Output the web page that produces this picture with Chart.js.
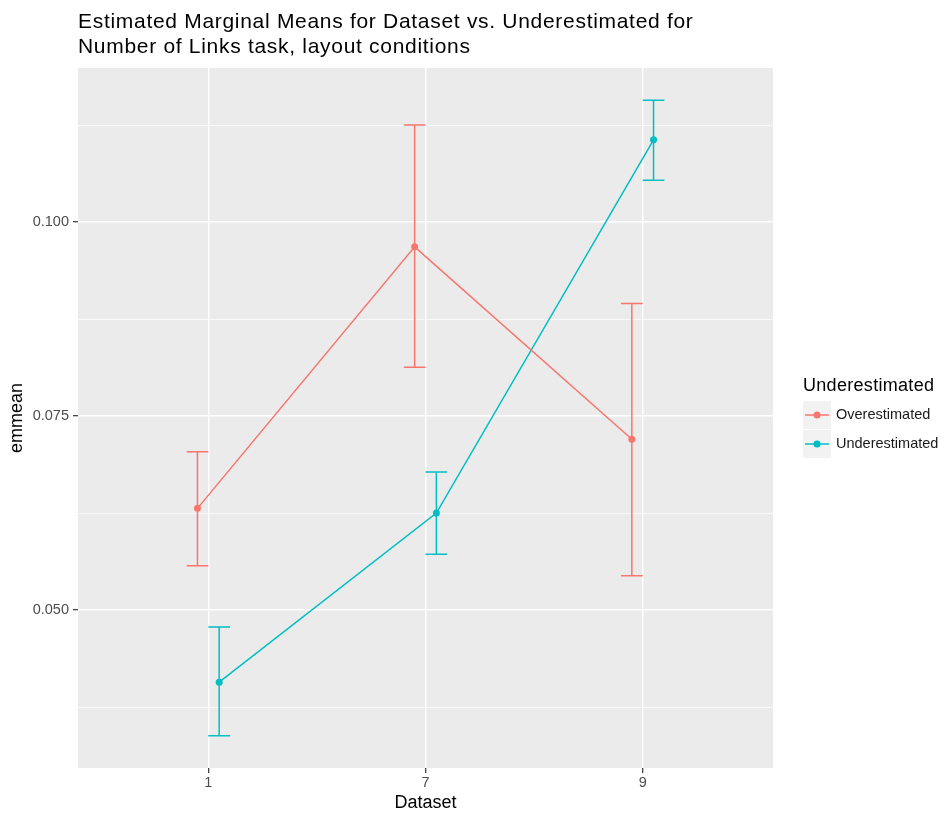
<!DOCTYPE html>
<html>
<head>
<meta charset="utf-8">
<title>Estimated Marginal Means</title>
<script src="https://cdn.jsdelivr.net/npm/chart.js@4.4.1/dist/chart.umd.min.js"></script>
<style>
  html, body { margin: 0; padding: 0; background: #ffffff; }
  #wrap { width: 945px; height: 815px; }
</style>
</head>
<body>
<div id="wrap"><canvas id="emmChart" width="945" height="815"></canvas></div>
<script>
// Data
const categories = ['1', '7', '9'];          // Dataset
const groups = ['Overestimated', 'Underestimated'];
const colors = ['#F8766D', '#00BFC4'];
const overMean  = [0.0631, 0.0968, 0.0720];
const overLower = [0.0557, 0.0813, 0.0544];
const overUpper = [0.0704, 0.1125, 0.0895];
const underMean  = [0.0407, 0.0625, 0.1106];
const underLower = [0.0338, 0.0572, 0.1054];
const underUpper = [0.0478, 0.0678, 0.1157];
const yTicks = [0.0375, 0.05, 0.0625, 0.075, 0.0875, 0.1, 0.1125];
const yLabelled = [0.05, 0.075, 0.1];

const dodge = 0.05;     // position_dodge(0.1)
const capHalf = 0.05;   // errorbar width 0.1
const FONT = "'Liberation Sans', Arial, Helvetica, sans-serif";

const means = [overMean, underMean];
const lowers = [overLower, underLower];
const uppers = [overUpper, underUpper];
const shift = [-dodge, dodge];

function isMajor(v) {
  return yLabelled.some(t => Math.abs(t - v) < 1e-9);
}

// grey panel background
const panelBg = {
  id: 'panelBg',
  beforeDraw(chart) {
    const a = chart.chartArea, c = chart.ctx;
    c.save();
    c.fillStyle = '#EBEBEB';
    c.fillRect(a.left, a.top, a.right - a.left, a.bottom - a.top);
    c.restore();
  }
};

// error bars drawn through the chart scales
const errorBars = {
  id: 'errorBars',
  beforeDatasetsDraw(chart) {
    const c = chart.ctx, xs = chart.scales.x, ys = chart.scales.y;
    c.save();
    c.lineWidth = 1.5;
    groups.forEach((g, gi) => {
      c.strokeStyle = colors[gi];
      categories.forEach((cat, i) => {
        const xv = i + 1 + shift[gi];
        const x = xs.getPixelForValue(xv);
        const x0 = xs.getPixelForValue(xv - capHalf);
        const x1 = xs.getPixelForValue(xv + capHalf);
        const yl = ys.getPixelForValue(lowers[gi][i]);
        const yu = ys.getPixelForValue(uppers[gi][i]);
        c.beginPath();
        c.moveTo(x, yl); c.lineTo(x, yu);
        c.moveTo(x0, yl); c.lineTo(x1, yl);
        c.moveTo(x0, yu); c.lineTo(x1, yu);
        c.stroke();
      });
    });
    c.restore();
  }
};

// title and ggplot-like legend
const decorations = {
  id: 'decorations',
  afterDraw(chart) {
    const c = chart.ctx;
    c.save();
    c.fillStyle = '#000000';
    c.textAlign = 'left';
    c.textBaseline = 'middle';
    c.font = '21px ' + FONT;
    c.letterSpacing = '0.7px';
    c.fillText('Estimated Marginal Means for Dataset vs. Underestimated for', 78, 22);
    c.fillText('Number of Links task, layout conditions', 78, 47);

    // legend
    c.font = '18px ' + FONT;
    c.letterSpacing = '0.3px';
    c.fillText('Underestimated', 803, 386);
    c.font = '14.5px ' + FONT;
    c.letterSpacing = '0px';
    groups.forEach((g, gi) => {
      const top = 401 + gi * 29;
      c.fillStyle = '#F2F2F2';
      c.fillRect(803, top, 28, 28);
      c.strokeStyle = colors[gi];
      c.lineWidth = 1.5;
      c.beginPath();
      c.moveTo(805, top + 14); c.lineTo(829, top + 14);
      c.stroke();
      c.fillStyle = colors[gi];
      c.beginPath();
      c.arc(817, top + 14, 3.5, 0, Math.PI * 2);
      c.fill();
      c.fillStyle = '#1a1a1a';
      c.fillText(g, 836, top + 14);
    });
    c.restore();
  }
};

const ctx = document.getElementById('emmChart').getContext('2d');

const emmChart = new Chart(ctx, {
  type: 'line',
  data: {
    datasets: groups.map((g, gi) => ({
      label: g,
      data: means[gi].map((v, i) => ({ x: i + 1 + shift[gi], y: v })),
      borderColor: colors[gi],
      backgroundColor: colors[gi],
      borderWidth: 1.5,
      pointRadius: 3.5,
      pointHoverRadius: 3.5,
      pointBorderWidth: 0,
      tension: 0
    }))
  },
  options: {
    responsive: false,
    animation: false,
    layout: { padding: { top: 68, right: 172, left: 0, bottom: 0 } },
    plugins: {
      legend: { display: false },
      tooltip: { enabled: false }
    },
    scales: {
      x: {
        type: 'linear',
        min: 0.4,
        max: 3.6,
        afterFit(scale) { scale.height = 47; },
        afterBuildTicks(scale) {
          scale.ticks = categories.map((c, i) => ({ value: i + 1 }));
        },
        border: { display: false },
        grid: {
          color: '#FFFFFF',
          lineWidth: 1.4,
          tickColor: '#333333',
          tickWidth: 1.2,
          tickLength: 5
        },
        ticks: {
          padding: 1,
          color: '#4D4D4D',
          font: { family: FONT, size: 14.5 },
          callback: (v) => categories[Math.round(v) - 1]
        },
        title: {
          display: true,
          text: 'Dataset',
          color: '#000000',
          font: { family: FONT, size: 18 },
          padding: { top: 0, bottom: 1 }
        }
      },
      y: {
        min: 0.02964,
        max: 0.11985,
        afterFit(scale) { scale.width = 78; },
        afterBuildTicks(scale) {
          scale.ticks = yTicks.map(v => ({ value: v }));
        },
        border: { display: false },
        grid: {
          color: '#FFFFFF',
          lineWidth: (c) => isMajor(c.tick.value) ? 1.4 : 0.7,
          tickColor: (c) => isMajor(c.tick.value) ? '#333333' : 'rgba(0,0,0,0)',
          tickWidth: 1.2,
          tickLength: 5
        },
        ticks: {
          padding: 4,
          color: '#4D4D4D',
          font: { family: FONT, size: 14.5 },
          callback: (v) => isMajor(v) ? v.toFixed(3) : ''
        },
        title: {
          display: true,
          text: 'emmean',
          color: '#000000',
          font: { family: FONT, size: 18 },
          padding: { top: 6, bottom: 0 }
        }
      }
    }
  },
  plugins: [panelBg, errorBars, decorations]
});
</script>
</body>
</html>
